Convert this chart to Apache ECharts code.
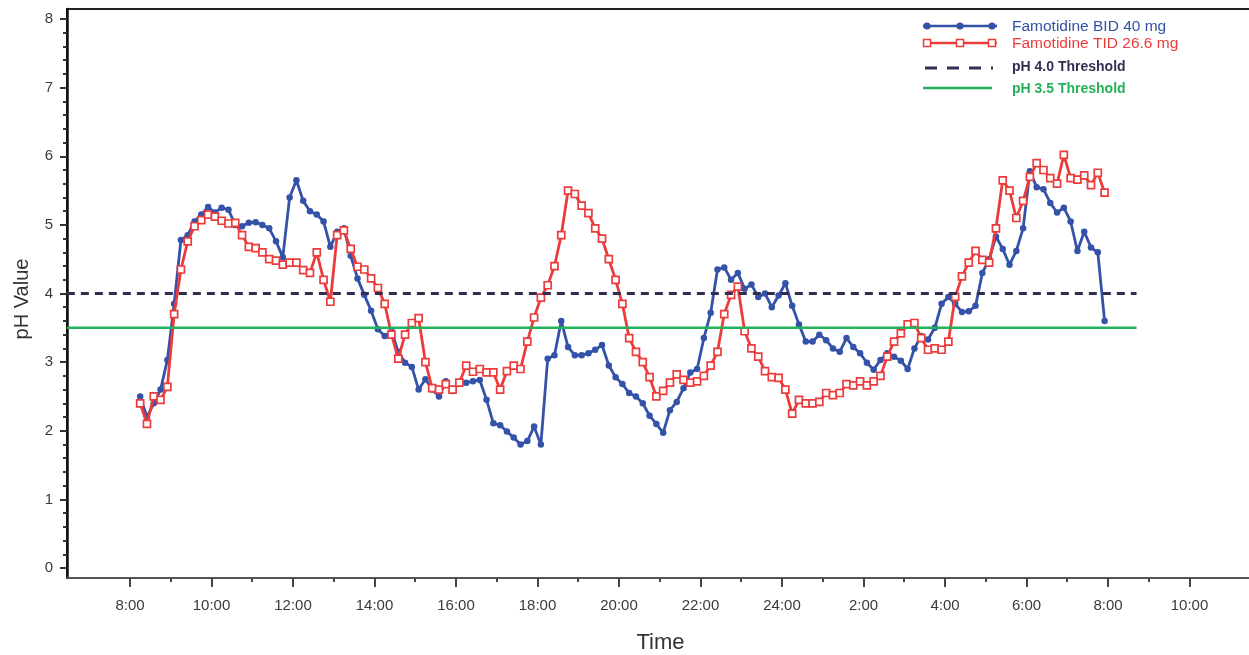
<!DOCTYPE html>
<html>
<head>
<meta charset="utf-8">
<title>Famotidine intragastric pH</title>
<script src="https://cdn.jsdelivr.net/npm/echarts@6/dist/echarts.min.js"></script>
<style>
  html, body { margin: 0; padding: 0; background: #fff; }
  #chart { width: 1249px; height: 655px; }
</style>
</head>
<body>
<div id="chart"></div>
<script>
// ---- data -------------------------------------------------------------
const seriesNames = ['Famotidine BID 40 mg', 'Famotidine TID 26.6 mg'];
const thresholdNames = ['pH 4.0 Threshold', 'pH 3.5 Threshold'];
const thresholdLevels = [4.0, 3.5];
const thresholdSpan = [6.45, 32.7];          // hours (clock hours, continuing past 24)
const axisTitles = { x: 'Time', y: 'pH Value' };

const recordStart = 8.25;                    // first sample at 8:15
const recordStepHours = 1 / 6;               // one sample every 10 minutes

// pH, Famotidine BID 40 mg
const bidPH = [
  2.5, 2.2, 2.4, 2.6, 3.03, 3.85, 4.78, 4.85, 5.05, 5.15,
  5.26, 5.18, 5.25, 5.22, 5.0, 4.98, 5.03, 5.04, 5.0, 4.95,
  4.76, 4.53, 5.4, 5.65, 5.35, 5.2, 5.15, 5.05, 4.68, 4.9,
  4.95, 4.55, 4.22, 3.98, 3.75, 3.48, 3.38, 3.45, 3.15, 2.99,
  2.93, 2.6, 2.75, 2.6, 2.5, 2.72, 2.58, 2.7, 2.7, 2.72,
  2.74, 2.45, 2.11, 2.08, 1.99, 1.9, 1.8, 1.85, 2.06, 1.8,
  3.05, 3.1, 3.6, 3.22, 3.1, 3.1, 3.13, 3.18, 3.25, 2.95,
  2.78, 2.68, 2.55, 2.5, 2.4, 2.22, 2.1, 1.97, 2.3, 2.42,
  2.62, 2.85, 2.9, 3.35, 3.72, 4.35, 4.38, 4.2, 4.3, 4.07,
  4.13, 3.95, 4.0, 3.8, 3.97, 4.15, 3.82, 3.55, 3.3, 3.3,
  3.4, 3.32, 3.2, 3.15, 3.35, 3.22, 3.13, 2.99, 2.89, 3.03,
  3.13, 3.08, 3.02, 2.9, 3.2, 3.38, 3.33, 3.5, 3.85, 3.95,
  3.85, 3.73, 3.74, 3.82, 4.3, 4.5, 4.83, 4.65, 4.42, 4.62,
  4.95, 5.78, 5.55, 5.52, 5.32, 5.18, 5.25, 5.05, 4.62, 4.9,
  4.67, 4.6, 3.6
];

// pH, Famotidine TID 26.6 mg
const tidPH = [
  2.4, 2.1, 2.5, 2.45, 2.64, 3.7, 4.35, 4.76, 4.98, 5.07,
  5.15, 5.12, 5.06, 5.02, 5.03, 4.85, 4.68, 4.66, 4.6, 4.5,
  4.48, 4.42, 4.45, 4.45, 4.34, 4.3, 4.6, 4.2, 3.88, 4.85,
  4.92, 4.65, 4.39, 4.35, 4.22, 4.08, 3.85, 3.4, 3.05, 3.4,
  3.57, 3.64, 3.0, 2.62, 2.6, 2.68, 2.6, 2.7, 2.95, 2.86,
  2.9, 2.85, 2.85, 2.6, 2.87, 2.95, 2.9, 3.3, 3.65, 3.94,
  4.12, 4.4, 4.85, 5.5, 5.45, 5.28, 5.17, 4.95, 4.8, 4.5,
  4.2, 3.85, 3.35, 3.15, 3.0, 2.78, 2.5, 2.58, 2.7, 2.82,
  2.74, 2.7, 2.72, 2.8, 2.95, 3.15, 3.7, 3.98, 4.1, 3.45,
  3.2, 3.08, 2.87, 2.78, 2.77, 2.6, 2.25, 2.45, 2.4, 2.4,
  2.42, 2.55, 2.52, 2.55, 2.68, 2.66, 2.72, 2.66, 2.72, 2.8,
  3.08, 3.3, 3.42, 3.55, 3.57, 3.35, 3.18, 3.2, 3.18, 3.3,
  3.95, 4.25, 4.45, 4.62, 4.49, 4.45, 4.95, 5.65, 5.5, 5.1,
  5.35, 5.7, 5.9, 5.8, 5.68, 5.6, 6.02, 5.68, 5.66, 5.72,
  5.58, 5.76, 5.47
];

// axis ticks (hours of the clock, continuing past midnight)
const xMajorTicks = [8, 10, 12, 14, 16, 18, 20, 22, 24, 26, 28, 30, 32, 34];
const xMinorTicks = [9, 11, 13, 15, 17, 19, 21, 23, 25, 27, 29, 31, 33];
const yMajorTicks = [0, 1, 2, 3, 4, 5, 6, 7, 8];

// ---- styling --------------------------------------------------------
const BLUE = '#3352a8';
const RED = '#ec3b3b';
const NAVY = '#332d52';
const GREEN = '#22b259';
const FONT = 'Arial, "Liberation Sans", sans-serif';
const TICK_TEXT = '#3a3a3a';

const X_MIN = 6.454, X_MAX = 35.583;
const Y_MIN = -0.146, Y_MAX = 8.146;

const yMinorTicks = [];
yMajorTicks.slice(0, -1).forEach(k => {
  [0.2, 0.4, 0.6, 0.8].forEach(f => yMinorTicks.push(+(k + f).toFixed(1)));
});

const toPairs = values => values.map((v, i) => [recordStart + i * recordStepHours, v]);
const clockLabel = v => (v > 24 ? v - 24 : v) + ':00';

const chart = echarts.init(document.getElementById('chart'), null, { renderer: 'canvas' });

// legend drawn as graphic elements: line sample with three markers, then text
const legendX0 = 923, legendX1 = 997, legendMarks = [927, 960, 992], legendTextX = 1012;
const legendRows = [26, 43, 68, 88];
const legendGraphics = [
  { type: 'line', shape: { x1: legendX0, y1: legendRows[0], x2: legendX1, y2: legendRows[0] },
    style: { stroke: BLUE, lineWidth: 2.5 } },
  ...legendMarks.map(cx => ({ type: 'circle', shape: { cx, cy: legendRows[0], r: 3.6 },
    style: { fill: BLUE } })),
  { type: 'line', shape: { x1: legendX0, y1: legendRows[1], x2: legendX1, y2: legendRows[1] },
    style: { stroke: RED, lineWidth: 2.5 } },
  ...legendMarks.map(cx => ({ type: 'rect', shape: { x: cx - 3.5, y: legendRows[1] - 3.5, width: 7, height: 7 },
    style: { fill: '#fff', stroke: RED, lineWidth: 1.5 } })),
  { type: 'line', shape: { x1: 925, y1: legendRows[2], x2: 993, y2: legendRows[2] },
    style: { stroke: NAVY, lineWidth: 3, lineDash: [12, 10] } },
  { type: 'line', shape: { x1: legendX0, y1: legendRows[3], x2: 992, y2: legendRows[3] },
    style: { stroke: GREEN, lineWidth: 2.5 } },
  { type: 'text', style: { text: seriesNames[0], x: legendTextX, y: legendRows[0] + 1, fill: BLUE,
    fontSize: 15.5, fontFamily: FONT, verticalAlign: 'middle', align: 'left' } },
  { type: 'text', style: { text: seriesNames[1], x: legendTextX, y: legendRows[1] + 1, fill: RED,
    fontSize: 15.5, fontFamily: FONT, verticalAlign: 'middle', align: 'left' } },
  { type: 'text', style: { text: thresholdNames[0], x: legendTextX, y: legendRows[2] - 1, fill: NAVY,
    fontSize: 14, fontWeight: 'bold', fontFamily: FONT, verticalAlign: 'middle', align: 'left' } },
  { type: 'text', style: { text: thresholdNames[1], x: legendTextX, y: legendRows[3] + 1, fill: GREEN,
    fontSize: 14, fontWeight: 'bold', fontFamily: FONT, verticalAlign: 'middle', align: 'left' } },
  // vertical axis title
  { type: 'text', x: 22, y: 299, rotation: Math.PI / 2,
    style: { text: axisTitles.y, fill: '#333', fontSize: 20, fontFamily: FONT,
             align: 'center', verticalAlign: 'middle' } }
];

const option = {
  animation: false,
  backgroundColor: '#fff',
  grid: { left: 67, top: 9, width: 1187, height: 569, show: true, outerBoundsMode: 'none',
          borderColor: '#222', borderWidth: 2, backgroundColor: 'transparent' },
  xAxis: [
    {
      type: 'value', min: X_MIN, max: X_MAX, position: 'bottom',
      name: axisTitles.x, nameLocation: 'middle', nameGap: 54,
      nameTextStyle: { fontSize: 22, color: '#333', fontFamily: FONT },
      axisLine: { show: true, onZero: false, lineStyle: { color: '#555', width: 2 } },
      axisTick: { show: true, customValues: xMajorTicks, length: 9, lineStyle: { color: '#444', width: 2 } },
      axisLabel: { customValues: xMajorTicks, formatter: clockLabel, margin: 20,
                   fontSize: 15, color: TICK_TEXT, fontFamily: FONT },
      splitLine: { show: false }
    },
    {
      type: 'value', min: X_MIN, max: X_MAX, position: 'bottom', offset: 0,
      axisLine: { show: false, onZero: false },
      axisTick: { show: true, customValues: xMinorTicks, length: 4, lineStyle: { color: '#444', width: 2 } },
      axisLabel: { show: false },
      splitLine: { show: false }
    }
  ],
  yAxis: [
    {
      type: 'value', min: Y_MIN, max: Y_MAX, position: 'left',
      axisLine: { show: true, onZero: false, lineStyle: { color: '#111', width: 2.5 } },
      axisTick: { show: true, customValues: yMajorTicks, length: 7, lineStyle: { color: '#333', width: 2 } },
      axisLabel: { customValues: yMajorTicks, margin: 14, fontSize: 15, color: TICK_TEXT, fontFamily: FONT },
      splitLine: { show: false }
    },
    {
      type: 'value', min: Y_MIN, max: Y_MAX, position: 'left', offset: 0,
      axisLine: { show: false, onZero: false },
      axisTick: { show: true, customValues: yMinorTicks, length: 4, lineStyle: { color: '#333', width: 2 } },
      axisLabel: { show: false },
      splitLine: { show: false }
    }
  ],
  series: [
    {
      name: seriesNames[0], type: 'line', data: toPairs(bidPH),
      symbol: 'circle', symbolSize: 6.5, showSymbol: true, showAllSymbol: true,
      lineStyle: { color: BLUE, width: 2.8 },
      itemStyle: { color: BLUE },
      z: 3
    },
    {
      name: seriesNames[1], type: 'line', data: toPairs(tidPH),
      symbol: 'rect', symbolSize: 7, showSymbol: true, showAllSymbol: true,
      lineStyle: { color: RED, width: 2.8 },
      itemStyle: { color: '#fff', borderColor: RED, borderWidth: 1.7 },
      z: 4
    },
    {
      name: thresholdNames[0], type: 'line', silent: true, symbol: 'none',
      data: thresholdSpan.map(x => [x, thresholdLevels[0]]),
      lineStyle: { color: NAVY, width: 3, type: [8, 6] },
      z: 5
    },
    {
      name: thresholdNames[1], type: 'line', silent: true, symbol: 'none',
      data: thresholdSpan.map(x => [x, thresholdLevels[1]]),
      lineStyle: { color: GREEN, width: 2.5 },
      z: 5
    }
  ],
  graphic: legendGraphics
};

chart.setOption(option);
</script>
</body>
</html>
